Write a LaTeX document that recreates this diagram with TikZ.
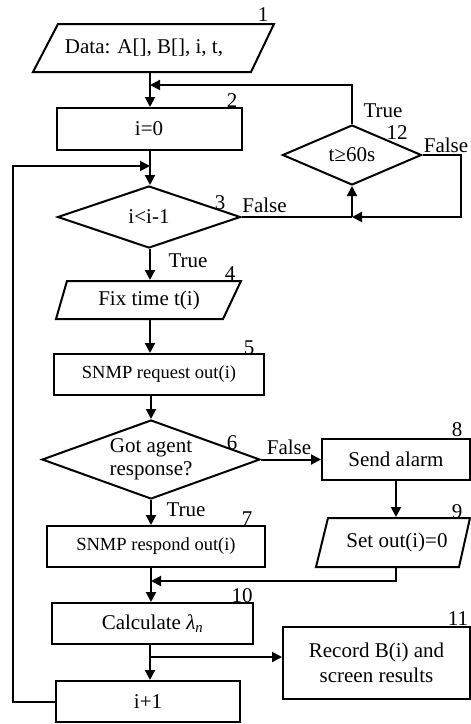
\documentclass[tikz,border=0pt]{standalone}
\usepackage{fontspec}
\setmainfont{Liberation Serif}
\usetikzlibrary{arrows.meta,calc,shapes.geometric}

\begin{document}
\begin{tikzpicture}[x=1pt,y=-1pt,line width=2pt,
  txt/.style={font=\fontsize{21}{23}\selectfont},
  smalltxt/.style={font=\fontsize{18.5}{21}\selectfont},
  procbox/.style={draw,rectangle,inner sep=0pt,align=center},
  decision/.style={draw,diamond,inner sep=0pt,align=center,txt},
  iobox/.style={rectangle,inner sep=0pt,align=center,txt},
  num/.style={anchor=base,inner sep=0pt,txt},
  tag/.style={anchor=base,inner sep=0pt,txt},
  arr/.style={-{Triangle[length=10pt,width=10pt]}}]
\useasboundingbox (0,0) rectangle (471,724);

% ---------- shapes ----------
\node[iobox,minimum width=200pt,minimum height=48pt] (d1) at (144,48) {Data: A[], B[], i, t,};
\draw ($(d1.center)+(-86,-24)$) -- ($(d1.center)+(130,-24)$) -- ($(d1.center)+(107,24)$) -- ($(d1.center)+(-111,24)$) -- cycle;

\node[procbox,txt,minimum width=185pt,minimum height=42pt] (b2) at (149,129) {i=0};

\node[decision,minimum width=183pt,minimum height=62pt,aspect=2.95] (d3) at (149,217) {i<i-1};

\node[decision,minimum width=139pt,minimum height=60pt,aspect=2.3] (d12) at (352,155) {t≥60s};

\node[iobox,minimum width=160pt,minimum height=38pt] (p4) at (149,300) {Fix time t(i)};
\draw ($(p4.center)+(-82,-19)$) -- ($(p4.center)+(92,-19)$) -- ($(p4.center)+(74,19)$) -- ($(p4.center)+(-93,19)$) -- cycle;

\node[procbox,smalltxt,minimum width=210pt,minimum height=41pt] (b5) at (159,374.5) {SNMP request out(i)};

\node[decision,minimum width=218pt,minimum height=79pt,aspect=2.76] (d6) at (151,459.5) {Got agent\\response?};

\node[procbox,txt,minimum width=148pt,minimum height=41pt] (b8) at (396,459.5) {Send alarm};

\node[procbox,smalltxt,minimum width=218pt,minimum height=41pt] (b7) at (156,546.5) {SNMP respond out(i)};

\node[iobox,minimum width=130pt,minimum height=49pt] (p9) at (396,542.5) {\hspace*{2pt}Set out(i)=0};
\draw ($(p9.center)+(-68,-24.5)$) -- ($(p9.center)+(74,-24.5)$) -- ($(p9.center)+(63,24.5)$) -- ($(p9.center)+(-80,24.5)$) -- cycle;

\node[procbox,txt,minimum width=201pt,minimum height=41pt] (b10) at (152.5,623.5) {Calculate \textit{λ}\textsubscript{\textit{n}}};

\node[procbox,txt,minimum width=187pt,minimum height=72pt,font=\fontsize{21}{25}\selectfont] (b11) at (376.5,663) {Record B(i) and\\screen results};

\node[procbox,txt,minimum width=184pt,minimum height=41pt] (b13) at (148,701.5) {i+1};

% ---------- junction points ----------
\coordinate (j1) at (150,85);
\coordinate (j2) at (150,166);
\coordinate (cL) at (13,166);
\coordinate (j3) at (d12.south |- d3.east);
\coordinate (cR) at ($(d12.east)+(38,0)$);
\coordinate (j4) at (151,581);
\coordinate (j5) at (150,657);

% ---------- connectors ----------
\draw[arr] (d1.south -| j1) -- (b2.north -| j1);
\draw[arr] (d12.north) |- (j1);
\draw[arr] (b2.south -| j2) -- (d3.north -| j2);
\draw[arr] (b13.west) -| (cL) -- (j2);
\draw (d3.east) -- (j3);
\draw[arr] (j3) -- (d12.south);
\draw[arr] (d12.east) -- (cR) |- (j3);
\draw[arr] (d3.south -| j2) -- (p4.north -| j2);
\draw[arr] (p4.south -| j2) -- (b5.north -| j2);
\draw[arr] (b5.south -| d6.north) -- (d6.north);
\draw[arr] (d6.east) -- (b8.west);
\draw[arr] (d6.south) -- (d6.south |- b7.north);
\draw[arr] (b8.south) -- (p9.north);
\draw[arr] (p9.south) |- (j4);
\draw[arr] (b7.south -| d6.south) -- (b10.north -| d6.south);
\draw[arr] (b10.south -| j5) -- (b13.north -| j5);
\draw[arr] (j5) -- (j5 -| b11.west);

% ---------- branch labels ----------
\node[tag] (tT12) at (383,117) {True};
\node[tag] (tF12) at (446,152) {False};
\node[tag] (tF3) at (264.5,212) {False};
\node[tag] (tT3) at (188,267) {True};
\node[tag] (tF6) at (289,454) {False};
\node[tag] (tT6) at (186,516) {True};

% ---------- step numbers ----------
\node[num] (n1) at (263,21) {1};
\node[num] (n2) at (232,107) {2};
\node[num] (n3) at (220,209) {3};
\node[num] (n12) at (397,139) {12};
\node[num] (n4) at (230,280) {4};
\node[num] (n5) at (249,354) {5};
\node[num] (n6) at (232,449) {6};
\node[num] (n8) at (457,436) {8};
\node[num] (n7) at (247,525) {7};
\node[num] (n9) at (457,518) {9};
\node[num] (n10) at (242,602) {10};
\node[num] (n11) at (458,625) {11};
\end{tikzpicture}
\end{document}
